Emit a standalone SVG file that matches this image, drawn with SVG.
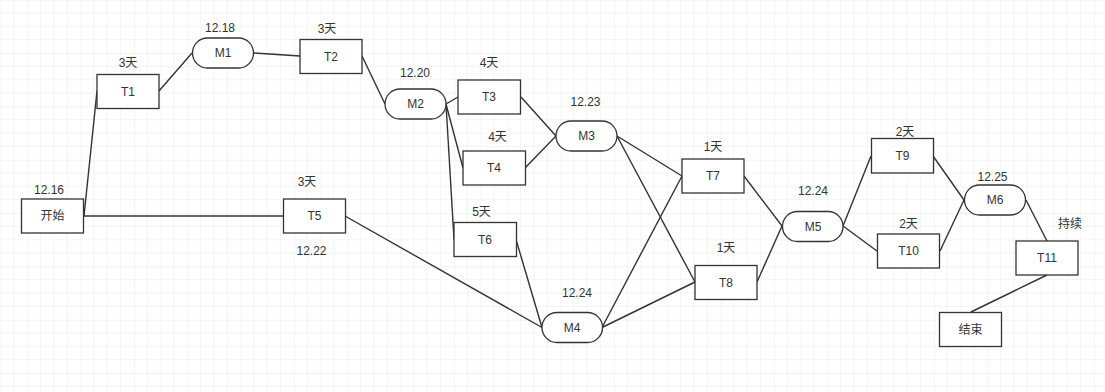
<svg xmlns="http://www.w3.org/2000/svg" width="1105" height="392" viewBox="0 0 1105 392">
<defs>
<pattern id="grid" patternUnits="userSpaceOnUse" x="27.3" y="-0.3" width="53.333" height="53.333">
<path d="M13.333 0V53.333M26.667 0V53.333M40 0V53.333M0 13.333H53.333M0 26.667H53.333M0 40H53.333" stroke="#f3f3f3" stroke-width="1" fill="none"/>
<path d="M0 0V53.333M0 0H53.333" stroke="#e8e8e8" stroke-width="1" fill="none"/>
</pattern>
</defs>
<style>
.n{fill:#fff;stroke:#333;stroke-width:1.3}
.t{font-family:"Liberation Sans","Noto Sans CJK SC",sans-serif;font-size:12px;fill:#333;text-anchor:middle;dominant-baseline:central}
.e{stroke:#333;stroke-width:1.4;fill:none}
</style>
<rect width="1105" height="392" fill="#fff"/>
<rect width="1105" height="392" fill="url(#grid)"/>
<g id="edges" class="e">
<line x1="84" y1="216" x2="97" y2="91"/>
<line x1="84" y1="216" x2="283" y2="216"/>
<line x1="159" y1="91" x2="192" y2="53"/>
<line x1="253" y1="53" x2="300" y2="56"/>
<line x1="362" y1="56" x2="385" y2="104"/>
<line x1="446" y1="104" x2="458" y2="97"/>
<line x1="446" y1="104" x2="463" y2="168"/>
<line x1="446" y1="104" x2="454" y2="239.5"/>
<line x1="521" y1="97" x2="556" y2="136"/>
<line x1="525" y1="168" x2="556" y2="136"/>
<line x1="617" y1="136" x2="682" y2="176"/>
<line x1="617" y1="136" x2="695" y2="282"/>
<line x1="345" y1="216" x2="542" y2="327.5"/>
<line x1="516" y1="239.5" x2="542" y2="327.5"/>
<line x1="602" y1="327.5" x2="682" y2="176"/>
<line x1="602" y1="327.5" x2="695" y2="282"/>
<line x1="744" y1="176" x2="782" y2="226"/>
<line x1="757" y1="282" x2="782" y2="226"/>
<line x1="843" y1="226" x2="871" y2="156"/>
<line x1="843" y1="226" x2="877" y2="251"/>
<line x1="933" y1="156" x2="964" y2="200"/>
<line x1="940" y1="251" x2="964" y2="200"/>
<line x1="1026" y1="200" x2="1047" y2="241"/>
<line x1="1047" y1="275" x2="971" y2="312"/>
</g>
<g id="start"><rect class="n" x="21.5" y="199" width="62" height="34"/><text class="t" x="52.5" y="216">开始</text><text class="t" x="49" y="190">12.16</text></g>
<g id="T1"><rect class="n" x="97" y="74.5" width="62" height="34"/><text class="t" x="128" y="91.5">T1</text><text class="t" x="128" y="62.5">3天</text></g>
<g id="M1"><rect class="n" x="192.5" y="38" width="61" height="30" rx="15"/><text class="t" x="223" y="53">M1</text><text class="t" x="220" y="28">12.18</text></g>
<g id="T2"><rect class="n" x="300" y="39.5" width="62" height="34"/><text class="t" x="331" y="56.5">T2</text><text class="t" x="327" y="28.5">3天</text></g>
<g id="T5"><rect class="n" x="283.5" y="199" width="62" height="34"/><text class="t" x="314.5" y="216">T5</text><text class="t" x="307" y="182">3天</text><text class="t" x="311.5" y="251">12.22</text></g>
<g id="M2"><rect class="n" x="385" y="89" width="61" height="30" rx="15"/><text class="t" x="415.5" y="104">M2</text><text class="t" x="415" y="73">12.20</text></g>
<g id="T3"><rect class="n" x="458" y="80" width="62.5" height="34"/><text class="t" x="489" y="97">T3</text><text class="t" x="489" y="63">4天</text></g>
<g id="T4"><rect class="n" x="463" y="151" width="62.5" height="34"/><text class="t" x="494" y="168">T4</text><text class="t" x="497.5" y="137">4天</text></g>
<g id="M3"><rect class="n" x="556" y="121" width="61" height="30" rx="15"/><text class="t" x="586.5" y="136">M3</text><text class="t" x="585.5" y="102">12.23</text></g>
<g id="T6"><rect class="n" x="454" y="222.5" width="62.5" height="34"/><text class="t" x="485" y="239.5">T6</text><text class="t" x="481.5" y="212">5天</text></g>
<g id="M4"><rect class="n" x="542" y="312.5" width="60.5" height="30" rx="15"/><text class="t" x="572" y="327.5">M4</text><text class="t" x="577" y="293">12.24</text></g>
<g id="T7"><rect class="n" x="682" y="159" width="62" height="34"/><text class="t" x="713" y="176">T7</text><text class="t" x="713" y="146.5">1天</text></g>
<g id="T8"><rect class="n" x="695" y="265.5" width="62" height="34"/><text class="t" x="726" y="282.5">T8</text><text class="t" x="726" y="248">1天</text></g>
<g id="M5"><rect class="n" x="782.5" y="211.5" width="60.5" height="30" rx="15"/><text class="t" x="813" y="226.5">M5</text><text class="t" x="813" y="191">12.24</text></g>
<g id="T9"><rect class="n" x="871.5" y="138.5" width="62" height="34.5"/><text class="t" x="902.5" y="156">T9</text><text class="t" x="905" y="132">2天</text></g>
<g id="T10"><rect class="n" x="877.5" y="234" width="62" height="34"/><text class="t" x="908.5" y="251">T10</text><text class="t" x="908.5" y="224">2天</text></g>
<g id="M6"><rect class="n" x="964.5" y="185" width="61" height="30" rx="15"/><text class="t" x="995" y="200">M6</text><text class="t" x="992.5" y="177">12.25</text></g>
<g id="T11"><rect class="n" x="1016" y="241" width="62" height="34"/><text class="t" x="1047" y="258">T11</text><text class="t" x="1070" y="224">持续</text></g>
<g id="end"><rect class="n" x="939.5" y="312.5" width="62" height="34"/><text class="t" x="970.5" y="329.5">结束</text></g>
</svg>
